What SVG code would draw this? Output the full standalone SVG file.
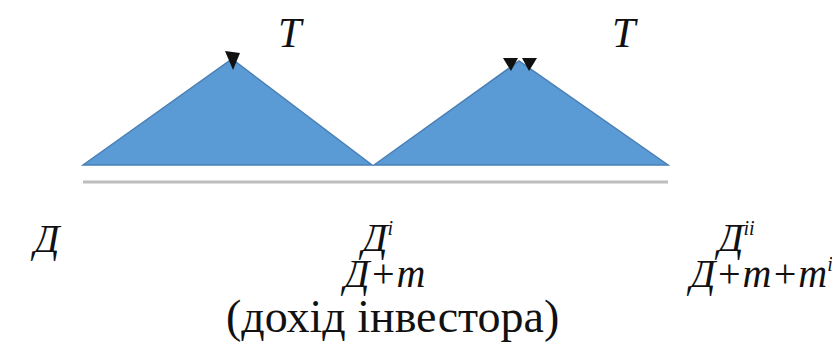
<svg xmlns="http://www.w3.org/2000/svg" width="832" height="349" viewBox="0 0 832 349">
<style>
.tri{fill:#5b9bd5;stroke:#4a7fb5;stroke-width:1.5}
.base{stroke:#bdbdbd;stroke-width:3}
.ah{fill:#111}
.m{font-family:'Liberation Serif';font-style:italic;font-size:40px;fill:#111}
.tt{font-family:'Liberation Serif';font-style:italic;font-size:42px;fill:#111}
.sup{font-size:20px}
.t{font-family:'Liberation Serif';font-size:46px;fill:#111}
</style>
<rect width="832" height="349" fill="#fff"/>
<g id="tri1"><polygon class="tri" points="83,165 232,59 372,165"/></g>
<g id="tri2"><polygon class="tri" points="374,165 519,61 668,165"/></g>
<g id="baseline"><line class="base" x1="83" y1="182" x2="668" y2="182"/></g>
<g id="connectors">
<path class="ah" d="M225,51 L240,53 L233,70 Z"/>
<path class="ah" d="M503,58 L518,58 L511,71 Z"/>
<path class="ah" d="M522,58 L537,58 L529,71 Z"/>
</g>
<g id="label-T1"><text class="tt" x="278" y="47">T</text></g>
<g id="label-T2"><text class="tt" x="612" y="47">T</text></g>
<g id="node-D"><text class="m" x="34" y="252">Д</text></g>
<g id="node-D1"><text class="m" x="362" y="251">Д<tspan class="sup" dy="-16">i</tspan></text>
<text class="m" x="344" y="287">Д+m</text>
<text class="t" x="226" y="332">(дохід інвестора)</text></g>
<g id="node-D2"><text class="m" x="718" y="251">Д<tspan class="sup" dy="-16">ii</tspan></text>
<text class="m" x="690" y="287">Д+m+m<tspan class="sup" dy="-16">i</tspan></text></g>
</svg>
